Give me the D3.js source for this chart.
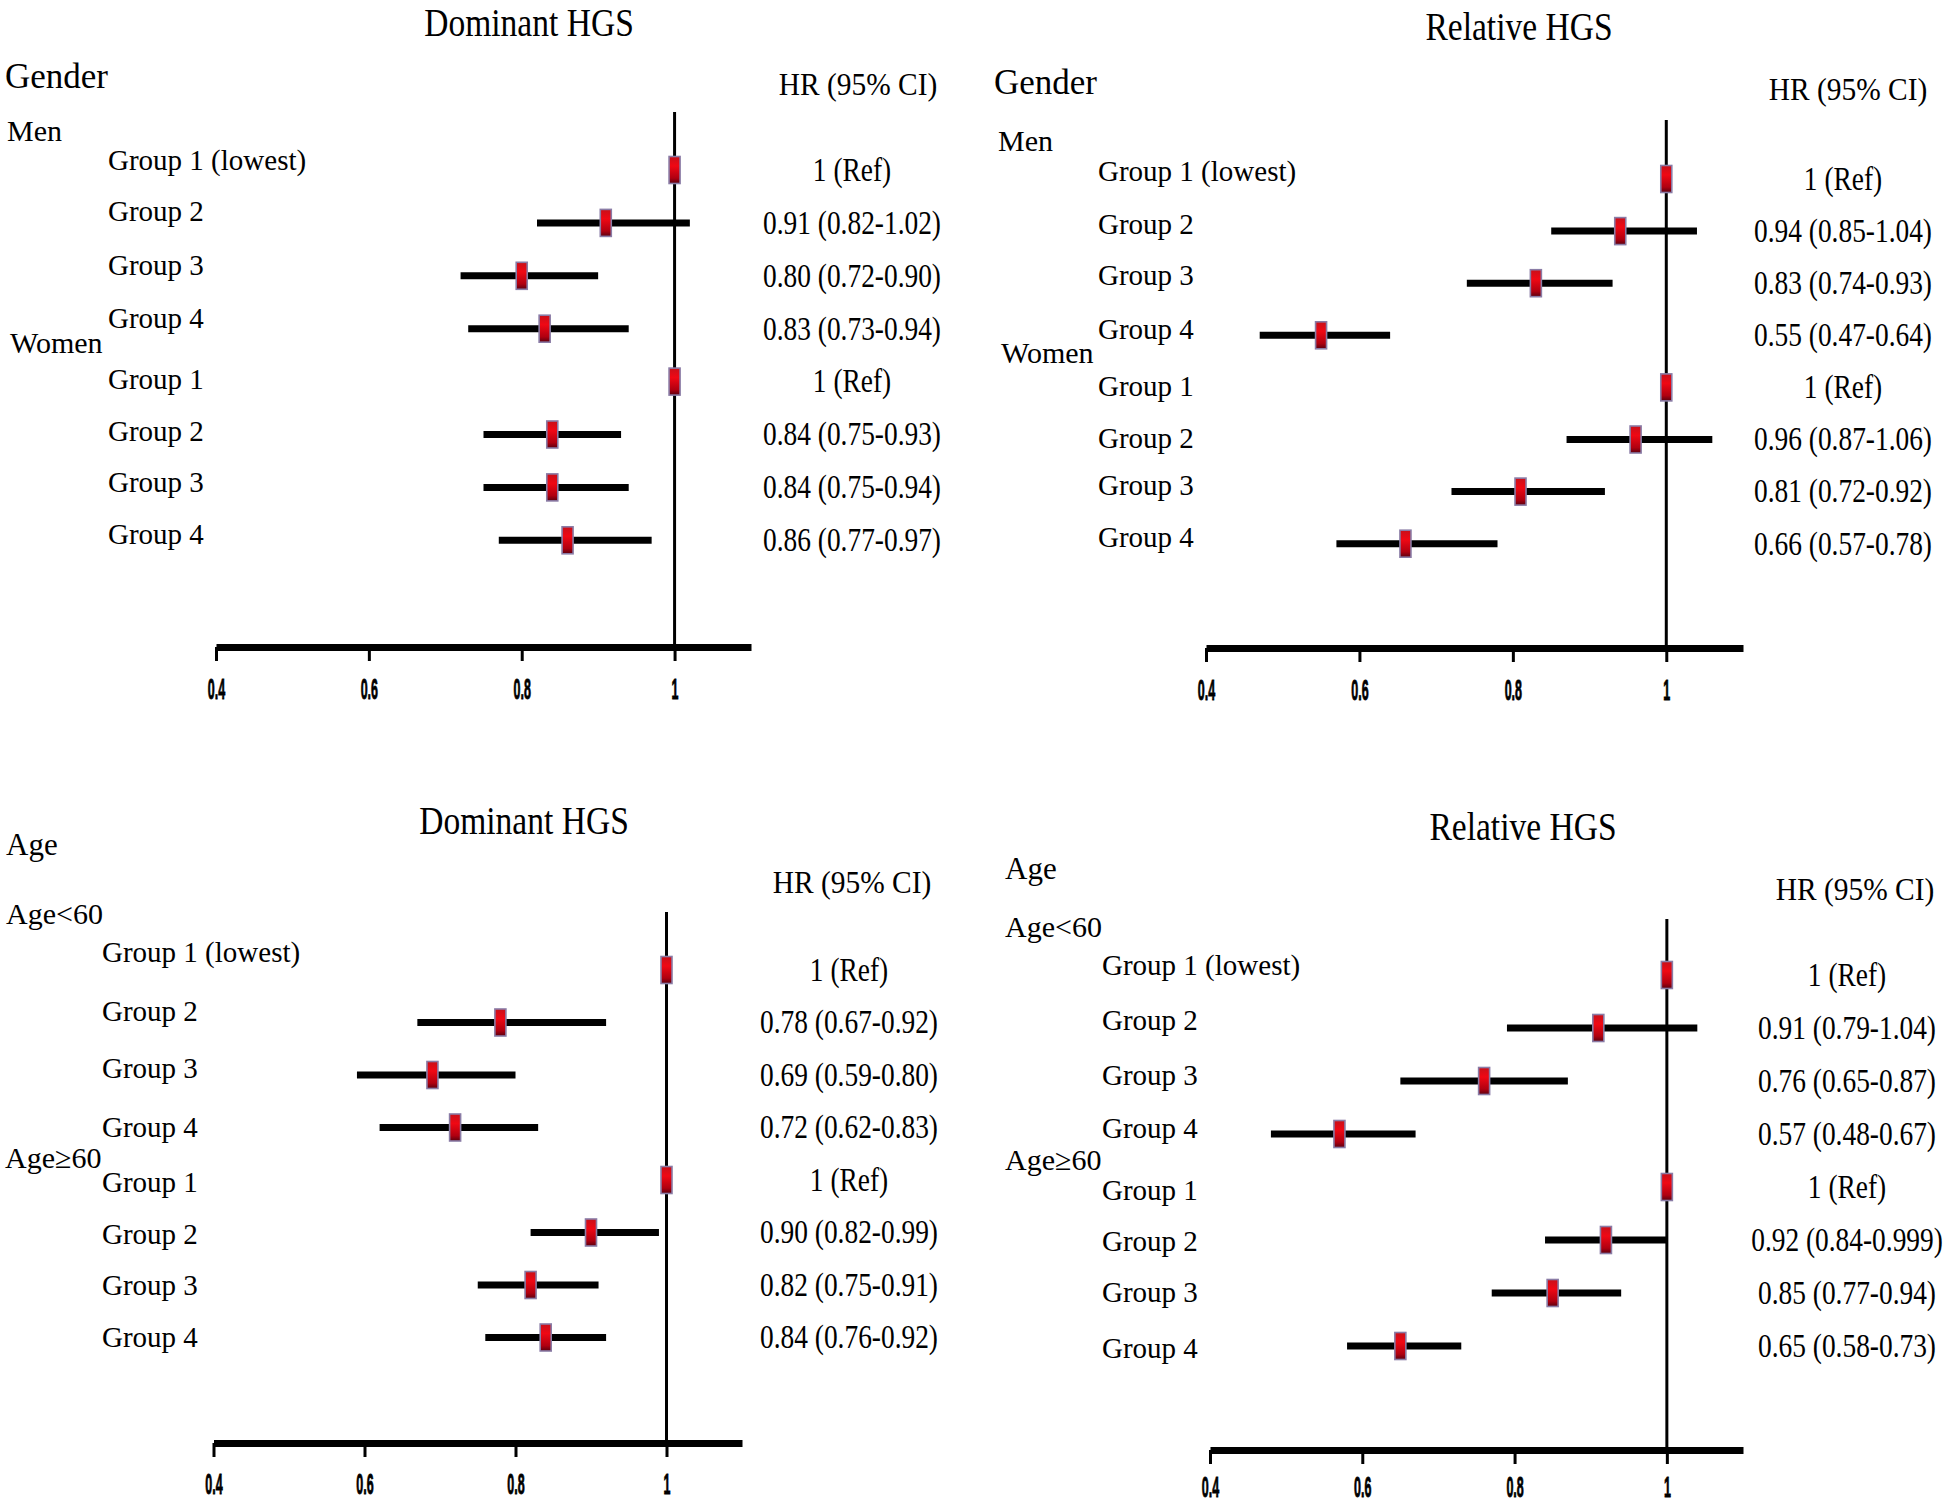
<!DOCTYPE html>
<html>
<head>
<meta charset="utf-8">
<script src="https://cdn.jsdelivr.net/npm/d3@7"></script>
<style>
  html, body { margin: 0; padding: 0; background: #fff; }
  svg { display: block; }
</style>
</head>
<body>
<script>
// ---------------- DATA ----------------
const panelTitles = ["Dominant HGS", "Relative HGS", "Dominant HGS", "Relative HGS"];
const sectionHeaders = ["Gender", "Gender", "Age", "Age"];
const genderSubgroups = ["Men", "Women"];
const ageSubgroups = ["Age<60", "Age\u226560"];
const groupLabels = ["Group 1 (lowest)", "Group 2", "Group 3", "Group 4", "Group 1", "Group 2", "Group 3", "Group 4"];
const hrHeader = "HR (95% CI)";
const tickValues = [0.4, 0.6, 0.8, 1];
const tickLabels = ["0.4", "0.6", "0.8", "1"];
const axisDomain = [0.4, 1.1];

// Dominant HGS – Gender
const domGenderHR = [1, 0.91, 0.80, 0.83, 1, 0.84, 0.84, 0.86];
const domGenderLo = [1, 0.82, 0.72, 0.73, 1, 0.75, 0.75, 0.77];
const domGenderHi = [1, 1.02, 0.90, 0.94, 1, 0.93, 0.94, 0.97];
const domGenderText = ["1 (Ref)", "0.91 (0.82-1.02)", "0.80 (0.72-0.90)", "0.83 (0.73-0.94)",
                       "1 (Ref)", "0.84 (0.75-0.93)", "0.84 (0.75-0.94)", "0.86 (0.77-0.97)"];

// Relative HGS – Gender
const relGenderHR = [1, 0.94, 0.83, 0.55, 1, 0.96, 0.81, 0.66];
const relGenderLo = [1, 0.85, 0.74, 0.47, 1, 0.87, 0.72, 0.57];
const relGenderHi = [1, 1.04, 0.93, 0.64, 1, 1.06, 0.92, 0.78];
const relGenderText = ["1 (Ref)", "0.94 (0.85-1.04)", "0.83 (0.74-0.93)", "0.55 (0.47-0.64)",
                       "1 (Ref)", "0.96 (0.87-1.06)", "0.81 (0.72-0.92)", "0.66 (0.57-0.78)"];

// Dominant HGS – Age
const domAgeHR = [1, 0.78, 0.69, 0.72, 1, 0.90, 0.82, 0.84];
const domAgeLo = [1, 0.67, 0.59, 0.62, 1, 0.82, 0.75, 0.76];
const domAgeHi = [1, 0.92, 0.80, 0.83, 1, 0.99, 0.91, 0.92];
const domAgeText = ["1 (Ref)", "0.78 (0.67-0.92)", "0.69 (0.59-0.80)", "0.72 (0.62-0.83)",
                    "1 (Ref)", "0.90 (0.82-0.99)", "0.82 (0.75-0.91)", "0.84 (0.76-0.92)"];

// Relative HGS – Age
const relAgeHR = [1, 0.91, 0.76, 0.57, 1, 0.92, 0.85, 0.65];
const relAgeLo = [1, 0.79, 0.65, 0.48, 1, 0.84, 0.77, 0.58];
const relAgeHi = [1, 1.04, 0.87, 0.67, 1, 0.999, 0.94, 0.73];
const relAgeText = ["1 (Ref)", "0.91 (0.79-1.04)", "0.76 (0.65-0.87)", "0.57 (0.48-0.67)",
                    "1 (Ref)", "0.92 (0.84-0.999)", "0.85 (0.77-0.94)", "0.65 (0.58-0.73)"];

// ---------------- LAYOUT ----------------
const W = 1946, H = 1504;
const SERIF = "'Liberation Serif', 'Times New Roman', serif";
const SANS = "'Liberation Sans', Arial, sans-serif";

const layouts = [
  { x04: 216, x11: 751, axisY: 647, refTop: 112, rowFirst: 170, rowStep: 52.9, tickDy: 42,
    title: [529, 23], header: [5, 76, 35], hr: [858, 84], sub: [[7, 131], [10, 343]],
    groupX: 108, valueX: 852, labelDy: [-10, -11, -10, -10, -2, -3, -5, -6] },
  { x04: 1206, x11: 1743, axisY: 648, refTop: 120, rowFirst: 179, rowStep: 52.1, tickDy: 42,
    title: [1519, 27.5], header: [994, 82, 35], hr: [1848, 89.5], sub: [[998, 141], [1001, 353]],
    groupX: 1098, valueX: 1843, labelDy: [-8, -7, -8, -6, -1, -1, -6, -6] },
  { x04: 213.5, x11: 742, axisY: 1443, refTop: 912, rowFirst: 970, rowStep: 52.5, tickDy: 41,
    title: [524, 821], header: [6, 845, 31], hr: [852, 882], sub: [[6, 914], [5, 1158]],
    groupX: 102, valueX: 849, labelDy: [-18, -11, -7, 0, 2, 2, 0, 0] },
  { x04: 1210, x11: 1743, axisY: 1450, refTop: 919, rowFirst: 975, rowStep: 53, tickDy: 37,
    title: [1523, 827], header: [1005, 869, 31], hr: [1855, 889], sub: [[1005, 927], [1005, 1160]],
    groupX: 1102, valueX: 1847, labelDy: [-10, -8, -6, -6, 3, 1, -1, 2] }
];

const panelData = [
  { hr: domGenderHR, lo: domGenderLo, hi: domGenderHi, text: domGenderText, subs: genderSubgroups },
  { hr: relGenderHR, lo: relGenderLo, hi: relGenderHi, text: relGenderText, subs: genderSubgroups },
  { hr: domAgeHR, lo: domAgeLo, hi: domAgeHi, text: domAgeText, subs: ageSubgroups },
  { hr: relAgeHR, lo: relAgeLo, hi: relAgeHi, text: relAgeText, subs: ageSubgroups }
];

const svg = d3.select("body").append("svg").attr("width", W).attr("height", H);

const defs = svg.append("defs");
const grad = defs.append("linearGradient").attr("id", "mk").attr("x1", 0).attr("y1", 0).attr("x2", 0).attr("y2", 1);
grad.append("stop").attr("offset", "0%").attr("stop-color", "#c8101a");
grad.append("stop").attr("offset", "35%").attr("stop-color", "#f00814");
grad.append("stop").attr("offset", "80%").attr("stop-color", "#b00010");
grad.append("stop").attr("offset", "100%").attr("stop-color", "#5a0010");

function centeredText(g, str, cx, cy, size, sx, anchor) {
  g.append("g")
    .attr("transform", `translate(${cx},${cy}) scale(${sx},1)`)
    .append("text")
    .attr("x", 0).attr("y", 0).attr("dy", "0.33em")
    .attr("text-anchor", anchor)
    .style("font-family", SERIF).style("font-size", size + "px").attr("fill", "#000")
    .text(str);
}

panelData.forEach((d, p) => {
  const L = layouts[p];
  const g = svg.append("g");
  const x = d3.scaleLinear().domain(axisDomain).range([L.x04, L.x11]);
  const y = d3.scaleLinear().domain([0, 7]).range([L.rowFirst, L.rowFirst + 7 * L.rowStep]);
  const idx = d3.range(d.hr.length);

  // texts
  centeredText(g, panelTitles[p], L.title[0], L.title[1], 39, 0.86, "middle");
  centeredText(g, sectionHeaders[p], L.header[0], L.header[1], L.header[2], 1, "start");
  centeredText(g, hrHeader, L.hr[0], L.hr[1], 32, 0.92, "middle");
  d.subs.forEach((s, i) => centeredText(g, s, L.sub[i][0], L.sub[i][1], 30, 1, "start"));
  idx.forEach(i => {
    centeredText(g, groupLabels[i], L.groupX, y(i) + L.labelDy[i], 29, 1, "start");
    centeredText(g, d.text[i], L.valueX, y(i), 33, 0.83, "middle");
  });

  // reference line at HR = 1
  g.append("line")
    .attr("x1", x(1)).attr("x2", x(1))
    .attr("y1", L.refTop).attr("y2", L.axisY)
    .attr("stroke", "#000").attr("stroke-width", 3);

  // CI lines
  g.selectAll("line.ci").data(idx.filter(i => d.hi[i] > d.lo[i])).enter().append("line")
    .attr("class", "ci")
    .attr("x1", i => x(d.lo[i])).attr("x2", i => x(d.hi[i]))
    .attr("y1", i => y(i)).attr("y2", i => y(i))
    .attr("stroke", "#000").attr("stroke-width", 7);

  // markers
  const mw = 11, mh = 27;
  g.selectAll("rect.mk").data(idx).enter().append("rect")
    .attr("class", "mk")
    .attr("x", i => x(d.hr[i]) - mw / 2).attr("y", i => y(i) - mh / 2)
    .attr("width", mw).attr("height", mh)
    .attr("fill", "url(#mk)")
    .attr("stroke", "#8a7ca6").attr("stroke-width", 1.6);

  // axis
  const axis = d3.axisBottom(x).tickValues(tickValues)
    .tickFormat((v, i) => tickLabels[i]).tickSize(14).tickSizeOuter(0);
  const ag = g.append("g").attr("transform", `translate(0,${L.axisY})`).call(axis);
  ag.select(".domain").attr("stroke", "#000").attr("stroke-width", 7);
  ag.selectAll(".tick line").attr("stroke", "#000").attr("stroke-width", 3);
  ag.selectAll(".tick text")
    .attr("y", 0).attr("dy", "0.36em")
    .attr("transform", `translate(0,${L.tickDy}) scale(0.43,1)`)
    .attr("fill", "#000").attr("stroke", "#000").attr("stroke-width", 0.9)
    .style("font-family", SANS).style("font-weight", "bold").style("font-size", "29px");
});
</script>
</body>
</html>
